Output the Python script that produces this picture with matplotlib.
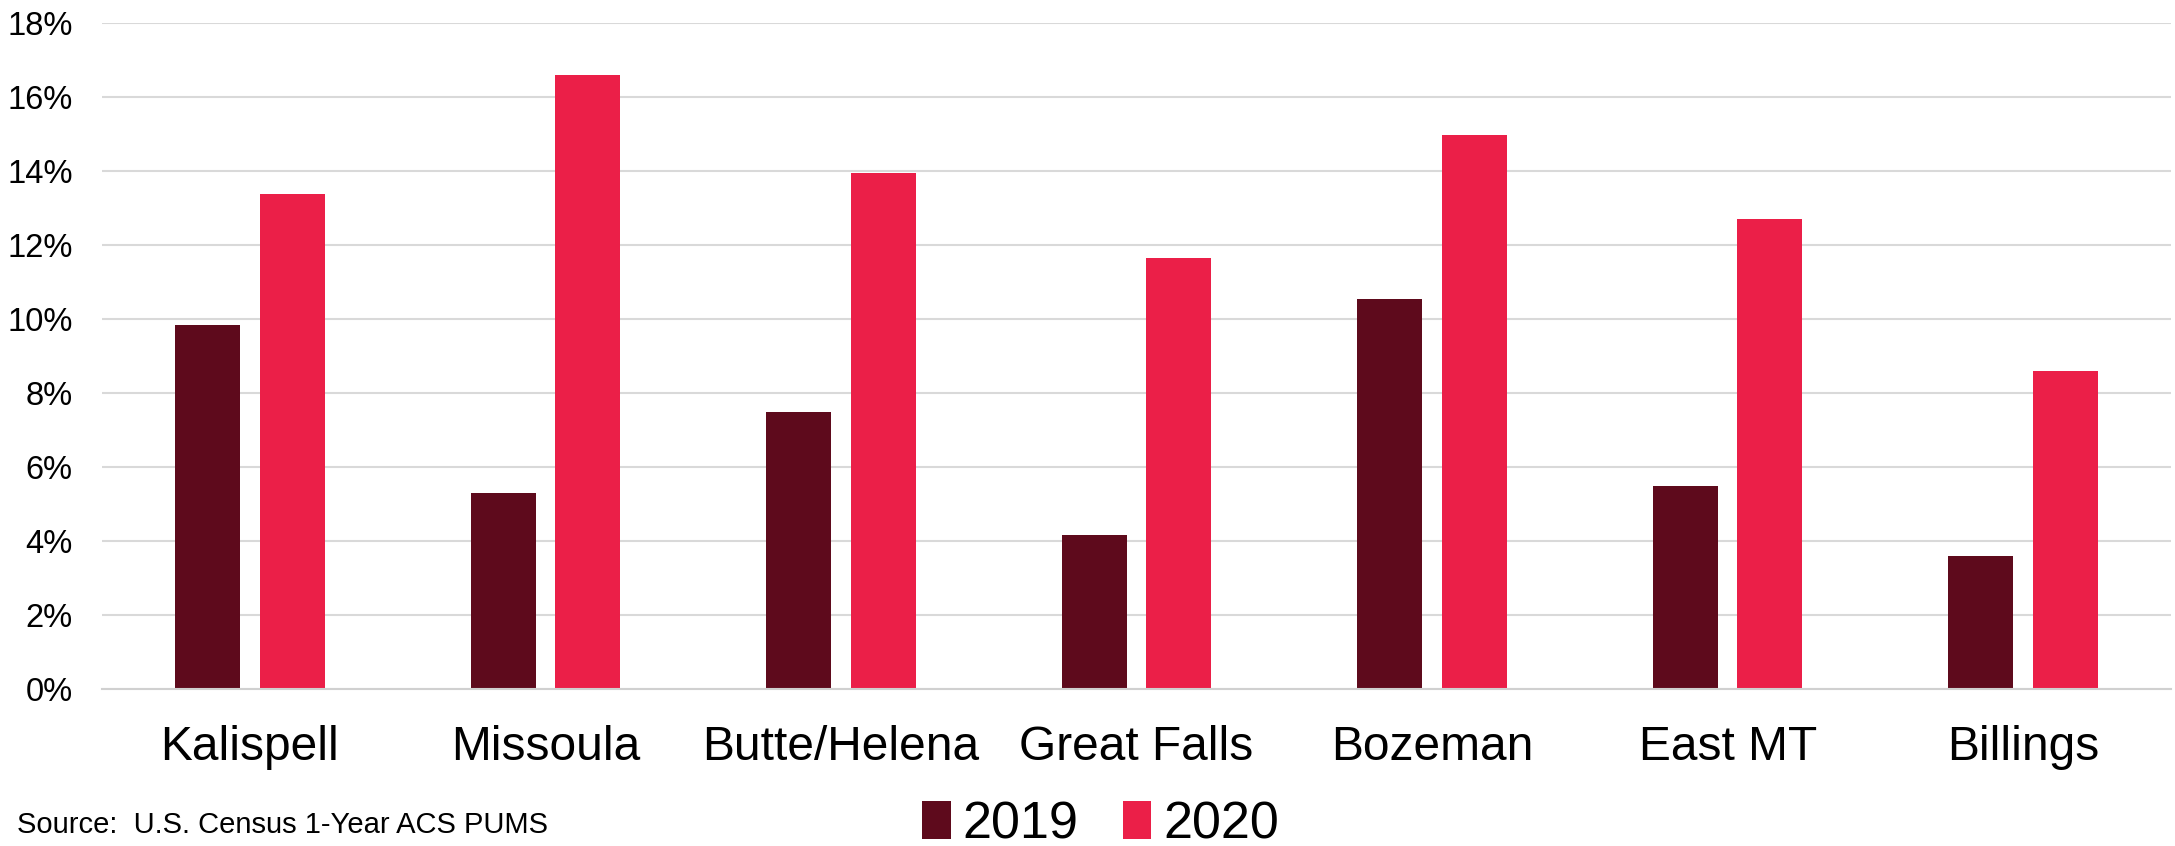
import matplotlib.pyplot as plt
import numpy as np

plt.rcParams['font.family'] = ['Liberation Sans', 'DejaVu Sans']

# Share by region, 2019 vs 2020 (percent)
regions = ['Kalispell', 'Missoula', 'Butte/Helena', 'Great Falls', 'Bozeman', 'East MT', 'Billings']
vals_2019 = [9.85, 5.3, 7.48, 4.17, 10.53, 5.49, 3.6]
vals_2020 = [13.38, 16.6, 13.95, 11.65, 14.96, 12.7, 8.6]
years = ['2019', '2020']
colors = ['#5E0A1C', '#EB1F48']

fig = plt.figure(figsize=(21.75, 8.46), dpi=100)
ax = fig.add_axes([102 / 2175, 1 - 689 / 846, (2171 - 102) / 2175, (689 - 23) / 846])

x = np.arange(len(regions))
w = 0.22
ax.bar(x - 0.143, vals_2019, width=w, color=colors[0], label=years[0], zorder=2)
ax.bar(x + 0.143, vals_2020, width=w, color=colors[1], label=years[1], zorder=2)

ax.set_xlim(-0.5, len(regions) - 0.5)
ax.set_ylim(0, 18)
ax.set_yticks(range(0, 19, 2))
ax.set_yticklabels([f'{v}%' for v in range(0, 19, 2)], fontsize=23.5)
ax.set_xticks(x)
ax.set_xticklabels(regions, fontsize=34.5)
ax.tick_params(axis='both', length=0)
ax.tick_params(axis='x', pad=26)
ax.tick_params(axis='y', pad=21)

ax.grid(axis='y', color='#D9D9D9', linewidth=1.5, zorder=0)
for s in ['top', 'right', 'left']:
    ax.spines[s].set_visible(False)
ax.spines['bottom'].set_color('#D0D0D0')
ax.spines['bottom'].set_linewidth(1.5)

fig.legend(loc='center', bbox_to_anchor=(0.506, 1 - 825 / 846), ncol=2, frameon=False,
           fontsize=37.5, handlelength=0.55, handleheight=0.75, handletextpad=0.22,
           columnspacing=0.85)

fig.text(17 / 2175, 1 - 825 / 846, 'Source:  U.S. Census 1-Year ACS PUMS', fontsize=21,
         va='center', ha='left')

fig.savefig('out.png', dpi=100)
